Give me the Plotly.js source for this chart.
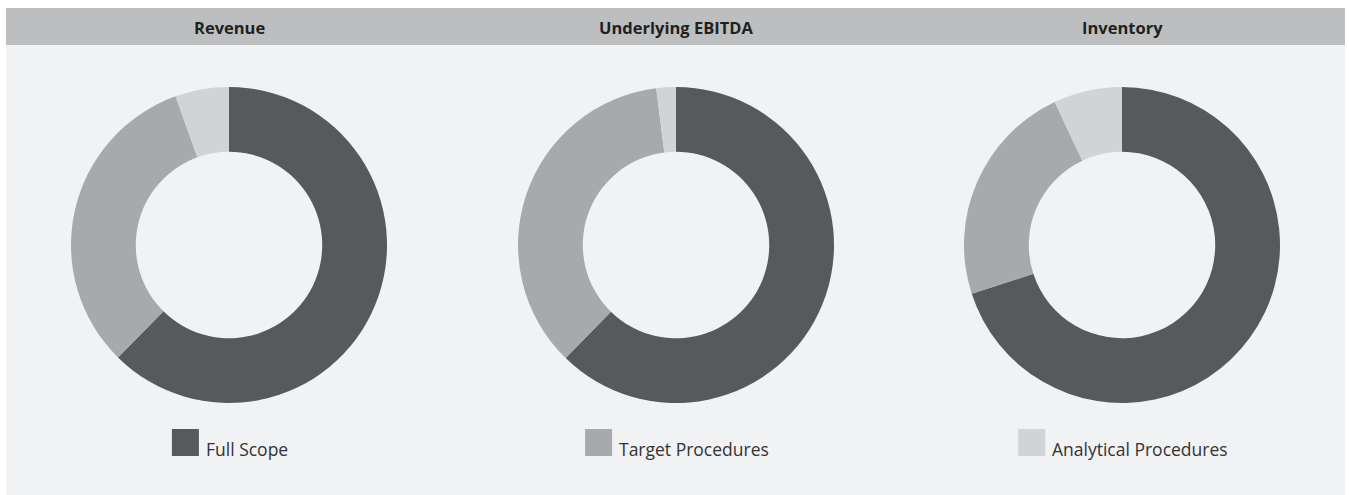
<!DOCTYPE html>
<html>
<head>
<meta charset="utf-8">
<script src="https://cdn.plot.ly/plotly-3.0.1.min.js"></script>
<style>
  html, body { margin: 0; padding: 0; background: #ffffff; }
  #chart { width: 1349px; height: 495px; }
</style>
</head>
<body>
<div id="chart"></div>
<script>
// ---- data ----
const categories = ['Full Scope', 'Target Procedures', 'Analytical Procedures'];
const panelTitles = ['Revenue', 'Underlying EBITDA', 'Inventory'];
const revenueValues = [62.4, 32.1, 5.5];
const ebitdaValues = [62.3, 35.7, 2.0];
const inventoryValues = [70.0, 23.0, 7.0];
const colors = ['#58595b', '#a7a9ac', '#d1d3d4'];

// ---- layout helpers ----
const W = 1349, H = 495;
const px = x => x / W;
const py = y => 1 - y / H;
const centers = [229, 676, 1122];
const cy = 245, R = 158;
const seriesList = [revenueValues, ebitdaValues, inventoryValues];
const FONT = '"Open Sans", "DejaVu Sans", sans-serif';

const traces = seriesList.map((vals, i) => ({
  type: 'pie',
  labels: categories,
  values: vals,
  name: panelTitles[i],
  hole: 0.59,
  sort: false,
  direction: 'clockwise',
  rotation: 0,
  textinfo: 'none',
  hoverinfo: 'label+percent',
  showlegend: false,
  marker: { colors: colors, line: { width: 0 } },
  domain: { x: [px(centers[i] - R), px(centers[i] + R)], y: [py(cy + R), py(cy - R)] }
}));

const shapes = [
  // panel body
  { type: 'rect', xref: 'paper', yref: 'paper', x0: px(6), x1: px(1345), y0: py(495), y1: py(45),
    fillcolor: '#f1f2f4', line: { width: 0 }, layer: 'below' },
  // header band
  { type: 'rect', xref: 'paper', yref: 'paper', x0: px(6), x1: px(1345), y0: py(45), y1: py(8),
    fillcolor: '#bcbec0', line: { width: 0 }, layer: 'below' }
];

const annotations = panelTitles.map((t, i) => ({
  text: '<b>' + t + '</b>', xref: 'paper', yref: 'paper',
  x: px(centers[i]), y: py(27.5), xanchor: 'center', yanchor: 'middle', showarrow: false,
  font: { family: FONT, size: 16.5, color: '#231f20' }
}));

// legend items, one centered under each donut
const legendFontSize = 17.5;
const canvas = document.createElement('canvas');
const ctx = canvas.getContext('2d');
ctx.font = legendFontSize + 'px "Open Sans"';
const sq = 27, gap = 5;
categories.forEach((c, i) => {
  const tw = ctx.measureText(c).width;
  const total = sq + gap + tw;
  const left = centers[i] - total / 2;
  shapes.push({ type: 'rect', xref: 'paper', yref: 'paper',
    x0: px(left), x1: px(left + sq), y0: py(456), y1: py(429),
    fillcolor: colors[i], line: { width: 0 } });
  annotations.push({ text: c, xref: 'paper', yref: 'paper',
    x: px(left + sq + gap), y: py(448.5), xanchor: 'left', yanchor: 'middle', showarrow: false,
    font: { family: FONT, size: legendFontSize, color: '#333333' } });
});

const layout = {
  width: W, height: H,
  margin: { l: 0, r: 0, t: 0, b: 0 },
  paper_bgcolor: '#ffffff',
  shapes: shapes,
  annotations: annotations,
  showlegend: false
};

Plotly.newPlot('chart', traces, layout, { displayModeBar: false, staticPlot: false });
</script>
</body>
</html>
